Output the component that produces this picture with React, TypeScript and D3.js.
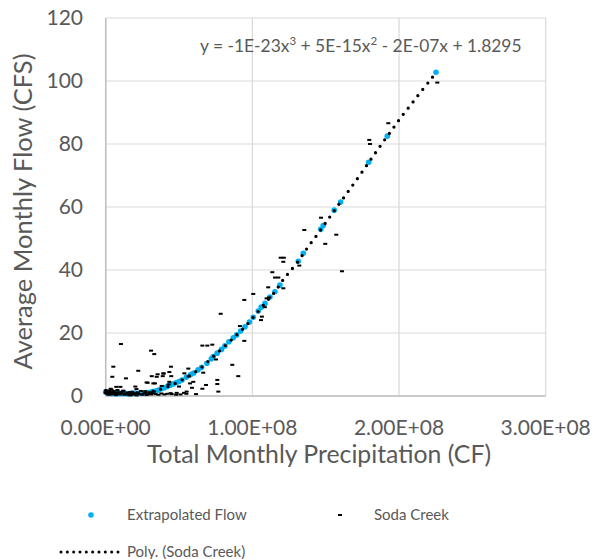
import React from "react";
import * as d3 from "d3";

// ---- Data (precipitation in CF, flow in CFS) ----
const precipTicks = [0, 1e8, 2e8, 3e8];
const flowTicks = [0, 20, 40, 60, 80, 100, 120];

const extrapPrecip = [
  0.0e8, 0.01e8, 0.02e8, 0.03e8, 0.04e8, 0.05e8, 0.06e8, 0.07e8, 0.08e8, 0.09e8, 0.1e8, 0.12e8,
  0.13e8, 0.15e8, 0.16e8, 0.18e8, 0.2e8, 0.22e8, 0.24e8, 0.26e8, 0.28e8, 0.3e8, 0.32e8, 0.34e8,
  0.36e8, 0.38e8, 0.4e8, 0.42e8, 0.44e8, 0.46e8, 0.48e8, 0.5e8, 0.52e8, 0.55e8, 0.58e8, 0.6e8,
  0.63e8, 0.654e8, 0.69e8, 0.72e8, 0.733e8, 0.76e8, 0.79e8, 0.813e8, 0.84e8, 0.87e8, 0.893e8,
  0.92e8, 0.95e8, 0.98e8, 1.006e8, 1.04e8, 1.06e8, 1.086e8, 1.12e8, 1.154e8, 1.188e8, 1.313e8,
  1.347e8, 1.466e8, 1.483e8, 1.558e8, 1.602e8, 1.793e8, 1.92e8, 2.252e8,
];
const extrapFlow = [
  1.3, 1.1, 1.0, 0.9, 0.8, 0.9, 0.8, 0.7, 0.8, 0.9, 0.8, 0.8,
  0.9, 0.7, 0.8, 0.9, 0.9, 0.8, 0.9, 1.0, 1.1, 1.2, 1.4, 1.6,
  1.9, 2.3, 2.6, 3.0, 3.4, 3.8, 4.2, 4.6, 5.1, 6.0, 6.8, 7.3,
  8.3, 9.1, 10.4, 11.8, 12.5, 13.6, 14.8, 15.9, 17.2, 18.5, 19.4,
  20.6, 22.0, 23.5, 25.0, 27.0, 28.2, 29.4, 31.4, 33.1, 35.2, 42.8,
  45.3, 52.9, 54.1, 59.0, 61.6, 74.2, 82.5, 102.8,
];

const sodaPrecip = [
  2.261e8, 1.927e8, 1.797e8, 1.802e8, 1.468e8, 1.354e8, 1.572e8, 1.497e8, 1.193e8, 1.215e8,
  1.211e8, 1.32e8, 1.136e8, 1.611e8, 1.154e8, 1.177e8, 1.211e8, 1.108e8, 1.006e8, 0.945e8,
  1.115e8, 1.097e8, 1.085e8, 1.065e8, 1.059e8, 0.784e8, 0.915e8, 0.945e8, 0.659e8, 0.693e8,
  0.727e8, 0.752e8, 0.863e8, 0.904e8, 0.665e8, 0.761e8, 0.761e8, 0.684e8, 0.659e8, 0.768e8,
  0.616e8, 0.563e8, 0.566e8, 0.536e8, 0.597e8, 0.588e8, 0.552e8, 0.5e8, 0.447e8, 0.434e8,
  0.395e8, 0.389e8, 0.348e8, 0.314e8, 0.309e8, 0.331e8, 0.222e8, 0.138e8, 0.104e8, 0.052e8,
  0.045e8, 0.286e8, 0.336e8, 0.382e8, 0.434e8, 0.429e8, 0.443e8, 0.484e8, 0.534e8, 0.575e8,
  0.202e8, 0.1e8, 0.072e8, 0.034e8, 0.354e8, 0.393e8, 0.445e8, 0.279e8, 0.325e8,
  // low-flow cluster
  0.0e8, 0.005e8, 0.01e8, 0.015e8, 0.02e8, 0.025e8, 0.03e8, 0.035e8, 0.04e8, 0.05e8, 0.055e8,
  0.06e8, 0.07e8, 0.075e8, 0.08e8, 0.09e8, 0.1e8, 0.11e8, 0.12e8, 0.13e8, 0.14e8, 0.15e8,
  0.16e8, 0.17e8, 0.18e8, 0.19e8, 0.2e8, 0.21e8, 0.22e8, 0.23e8, 0.24e8, 0.25e8, 0.26e8,
  0.27e8, 0.28e8, 0.29e8, 0.3e8, 0.31e8, 0.32e8, 0.33e8, 0.34e8, 0.36e8, 0.38e8, 0.4e8,
  0.42e8, 0.45e8, 0.48e8, 0.51e8, 0.55e8, 0.04e8, 0.08e8, 0.12e8, 0.17e8, 0.21e8, 0.27e8,
];
const sodaFlow = [
  99.5, 86.6, 81.3, 80.0, 56.6, 52.7, 51.2, 48.3, 43.9, 43.9,
  42.6, 41.4, 39.3, 39.6, 37.6, 37.6, 34.2, 34.5, 32.4, 30.5,
  31.3, 31.0, 28.2, 25.2, 24.1, 26.1, 22.2, 17.5, 16.0, 16.0,
  16.3, 11.6, 9.9, 6.3, 7.4, 5.1, 3.8, 3.5, 2.3, 1.4,
  0.6, 8.7, 6.2, 7.2, 4.5, 2.6, 1.4, 3.0, 6.3, 7.6,
  7.1, 6.3, 6.1, 6.3, 14.4, 13.3, 8.0, 5.6, 16.5, 9.3,
  6.1, 4.2, 4.0, 3.2, 4.5, 3.7, 0.9, 1.0, 1.0, 4.0,
  3.0, 2.9, 2.9, 2.3, 6.9, 7.2, 9.3, 4.3, 4.0,
  1.0, 1.6, 0.6, 1.2, 0.4, 1.8, 0.8, 1.3, 0.5, 1.1, 0.7,
  1.5, 0.3, 1.0, 0.6, 1.2, 0.5, 0.9, 1.4, 0.4, 0.8, 1.1,
  0.3, 0.7, 1.3, 0.5, 0.9, 0.2, 1.1, 0.6, 1.6, 0.4, 0.8,
  1.0, 0.3, 0.7, 1.2, 0.5, 0.9, 1.4, 0.6, 0.4, 0.8, 0.5,
  0.7, 0.6, 0.4, 0.5, 0.7, 2.0, 1.9, 1.7, 0.2, 2.2, 1.5,
];

const trendPrecip = [
  0, 0.1e8, 0.2e8, 0.3e8, 0.37e8, 0.425e8, 0.47e8, 0.52e8, 0.566e8, 0.613e8, 0.654e8, 0.733e8,
  0.813e8, 0.893e8, 0.95e8, 1.006e8, 1.086e8, 1.154e8, 1.211e8, 1.25e8, 1.313e8, 1.379e8,
  1.445e8, 1.509e8, 1.57e8, 1.636e8, 1.699e8, 1.763e8, 1.824e8, 1.888e8, 1.952e8, 2.015e8,
  2.083e8, 2.149e8, 2.218e8, 2.261e8,
];
const trendFlow = [
  1.8, 1.2, 1.0, 1.3, 2.1, 3.0, 3.9, 5.1, 6.3, 7.7, 9.1, 12.5,
  15.9, 19.4, 22.0, 25.0, 29.4, 33.1, 37.0, 39.2, 42.8, 47.3,
  51.4, 55.6, 59.6, 63.8, 67.9, 72.1, 76.2, 80.4, 84.5, 88.6,
  92.6, 96.6, 100.6, 103.2,
];

const xTitle = "Total Monthly Precipitation (CF)";
const yTitle = "Average Monthly Flow (CFS)";
const legendLabels = ["Extrapolated Flow", "Soda Creek", "Poly. (Soda Creek)"];

// ---- Layout ----
const W = 602;
const H = 559;
const left = 105.7;
const right = 545.7;
const top = 18;
const bottom = 396;
const FONT = "Lato, 'Open Sans', sans-serif";
const TEXT = "#595959";
const BLUE = "#00B0F0";

function sci(v: number): string {
  if (v === 0) return "0.00E+00";
  const e = Math.floor(Math.log10(Math.abs(v)));
  const m = v / Math.pow(10, e);
  return m.toFixed(2) + "E" + (e >= 0 ? "+" : "-") + String(Math.abs(e)).padStart(2, "0");
}

export default function App() {
  const x = d3.scaleLinear().domain([0, 3e8]).range([left, right]);
  const y = d3.scaleLinear().domain([0, 120]).range([bottom, top]);

  const trendPts = trendPrecip.map((p, i) => [p, trendFlow[i]] as [number, number]);
  const trendPath = d3
    .line<[number, number]>()
    .x((d) => x(d[0]))
    .y((d) => y(d[1]))
    .curve(d3.curveCatmullRom)(trendPts) as string;

  return (
    <svg
      width={W}
      height={H}
      style={{ position: "absolute", left: 0, top: 0, background: "#fff" }}
      fontFamily={FONT}
    >
      <rect width={W} height={H} fill="#fff" />
      {/* gridlines */}
      {flowTicks.map((t) => (
        <line key={"gy" + t} x1={left} x2={right} y1={y(t)} y2={y(t)} stroke="#d9d9d9" strokeWidth={1.2} />
      ))}
      {precipTicks.map((t) => (
        <line key={"gx" + t} x1={x(t)} x2={x(t)} y1={top} y2={bottom} stroke="#d9d9d9" strokeWidth={1.2} />
      ))}
      {/* axes */}
      <line x1={left} x2={left} y1={top} y2={bottom} stroke="#bfbfbf" strokeWidth={1.5} />
      <line x1={left} x2={right} y1={bottom} y2={bottom} stroke="#bfbfbf" strokeWidth={1.5} />

      {/* tick labels */}
      {flowTicks.map((t) => (
        <text key={"ty" + t} x={83} y={y(t) + 7} textAnchor="end" fontSize={21} fill={TEXT}>
          {t}
        </text>
      ))}
      {precipTicks.map((t) => (
        <text key={"tx" + t} x={x(t)} y={435} textAnchor="middle" fontSize={21} fill={TEXT}>
          {sci(t)}
        </text>
      ))}

      {/* axis titles */}
      <text x={319} y={463} textAnchor="middle" fontSize={24.8} fill={TEXT}>
        {xTitle}
      </text>
      <text
        transform={`translate(31.5,211.5) rotate(-90)`}
        textAnchor="middle"
        fontSize={25.5}
        fill={TEXT}
      >
        {yTitle}
      </text>

      {/* series: extrapolated flow */}
      {extrapPrecip.map((p, i) => (
        <circle key={"e" + i} cx={x(p)} cy={y(extrapFlow[i])} r={2.8} fill={BLUE} />
      ))}
      {/* series: Soda Creek */}
      {sodaPrecip.map((p, i) => (
        <rect key={"s" + i} x={x(p) - 2} y={y(sodaFlow[i]) - 1} width={4} height={2} fill="#000" />
      ))}
      {/* trendline */}
      <path
        d={trendPath}
        fill="none"
        stroke="#000"
        strokeWidth={3.3}
        strokeLinecap="round"
        strokeDasharray="0 7.9"
      />

      {/* equation */}
      <text x={200} y={52} fontSize={17.4} fill={TEXT}>
        y = -1E-23x<tspan dy={-7} fontSize={11.5}>3</tspan>
        <tspan dy={7}> + 5E-15x</tspan>
        <tspan dy={-7} fontSize={11.5}>2</tspan>
        <tspan dy={7}> - 2E-07x + 1.8295</tspan>
      </text>

      {/* legend */}
      <circle cx={91} cy={515} r={2.8} fill={BLUE} />
      <text x={127} y={520} fontSize={15} fill={TEXT}>
        {legendLabels[0]}
      </text>
      <rect x={338} y={514} width={4} height={2} fill="#000" />
      <text x={374} y={520} fontSize={15} fill={TEXT}>
        {legendLabels[1]}
      </text>
      <line
        x1={61}
        x2={118}
        y1={552}
        y2={552}
        stroke="#000"
        strokeWidth={3}
        strokeLinecap="round"
        strokeDasharray="0 6.33"
      />
      <text x={127} y={557} fontSize={15} fill={TEXT}>
        {legendLabels[2]}
      </text>
    </svg>
  );
}
